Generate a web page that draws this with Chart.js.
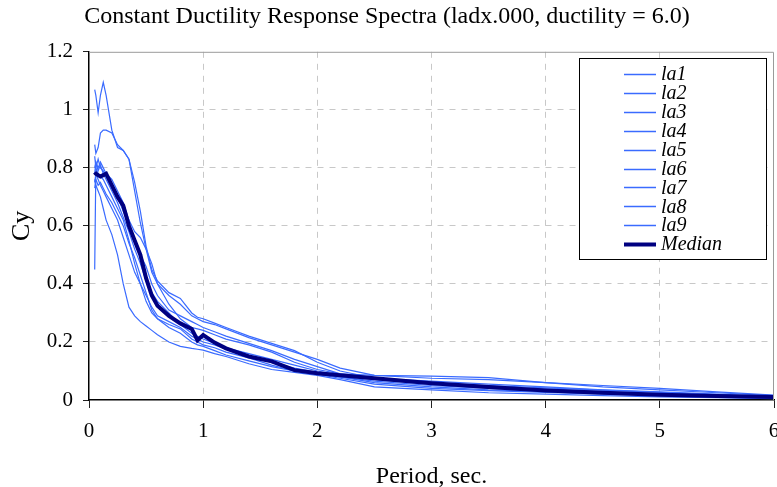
<!DOCTYPE html>
<html>
<head>
<meta charset="utf-8">
<script src="https://cdn.jsdelivr.net/npm/chart.js@4"></script>
<style>
  html, body { margin: 0; padding: 0; background: #fff; }
  #wrap { width: 777px; height: 487px; }
</style>
</head>
<body>
<div id="wrap"><canvas id="c" width="777" height="487"></canvas></div>
<script>
const periods = [0.05, 0.06, 0.08, 0.1, 0.125, 0.15, 0.2, 0.25, 0.3, 0.35, 0.4, 0.45, 0.5, 0.55, 0.6,
  0.7, 0.8, 0.9, 0.95, 1.0, 1.1, 1.2, 1.4, 1.6, 1.8, 2.0, 2.2, 2.5, 3.0, 3.5, 4.0, 4.5, 5.0, 5.5, 6.0];

const la1 = [1.07, 1.05, 0.99, 1.05, 1.095, 1.05, 0.93, 0.87, 0.86, 0.83, 0.72, 0.61, 0.52, 0.44, 0.40,
  0.36, 0.33, 0.29, 0.28, 0.27, 0.26, 0.245, 0.215, 0.19, 0.165, 0.14, 0.11, 0.085, 0.075, 0.07, 0.06, 0.045, 0.035, 0.025, 0.015];
const la2 = [0.88, 0.85, 0.87, 0.92, 0.93, 0.93, 0.92, 0.88, 0.86, 0.83, 0.75, 0.65, 0.53, 0.45, 0.41,
  0.37, 0.35, 0.30, 0.285, 0.28, 0.265, 0.25, 0.22, 0.195, 0.17, 0.13, 0.10, 0.075, 0.065, 0.055, 0.045, 0.035, 0.028, 0.02, 0.012];
const la3 = [0.78, 0.82, 0.80, 0.82, 0.80, 0.78, 0.76, 0.72, 0.68, 0.62, 0.58, 0.56, 0.52, 0.47, 0.40,
  0.33, 0.28, 0.25, 0.245, 0.24, 0.225, 0.21, 0.19, 0.165, 0.13, 0.105, 0.09, 0.085, 0.082, 0.077, 0.06, 0.05, 0.04, 0.028, 0.017];
const la4 = [0.75, 0.78, 0.76, 0.74, 0.72, 0.70, 0.66, 0.62, 0.56, 0.50, 0.44, 0.40, 0.36, 0.32, 0.29,
  0.27, 0.25, 0.22, 0.21, 0.20, 0.19, 0.175, 0.15, 0.13, 0.11, 0.095, 0.08, 0.065, 0.05, 0.04, 0.033, 0.027, 0.02, 0.014, 0.008];
const la5 = [0.45, 0.80, 0.78, 0.77, 0.76, 0.74, 0.70, 0.66, 0.62, 0.55, 0.47, 0.40, 0.34, 0.30, 0.28,
  0.26, 0.245, 0.21, 0.20, 0.19, 0.18, 0.165, 0.145, 0.12, 0.10, 0.09, 0.08, 0.06, 0.045, 0.035, 0.03, 0.025, 0.018, 0.012, 0.007];
const la6 = [0.76, 0.74, 0.72, 0.70, 0.66, 0.62, 0.57, 0.50, 0.40, 0.32, 0.29, 0.27, 0.255, 0.24, 0.225,
  0.20, 0.185, 0.178, 0.175, 0.172, 0.16, 0.15, 0.125, 0.105, 0.095, 0.085, 0.07, 0.045, 0.035, 0.025, 0.02, 0.015, 0.011, 0.008, 0.005];
const la7 = [0.80, 0.82, 0.79, 0.81, 0.78, 0.76, 0.72, 0.68, 0.63, 0.58, 0.52, 0.47, 0.41, 0.37, 0.34,
  0.30, 0.26, 0.23, 0.22, 0.21, 0.195, 0.18, 0.16, 0.14, 0.12, 0.10, 0.085, 0.07, 0.055, 0.045, 0.038, 0.03, 0.022, 0.016, 0.01];
const la8 = [0.84, 0.80, 0.83, 0.80, 0.79, 0.77, 0.74, 0.70, 0.65, 0.60, 0.55, 0.50, 0.46, 0.40, 0.36,
  0.31, 0.29, 0.27, 0.26, 0.25, 0.235, 0.22, 0.195, 0.17, 0.14, 0.115, 0.09, 0.075, 0.06, 0.05, 0.042, 0.034, 0.026, 0.018, 0.012];
const la9 = [0.73, 0.76, 0.74, 0.75, 0.73, 0.71, 0.68, 0.64, 0.60, 0.54, 0.49, 0.43, 0.37, 0.31, 0.28,
  0.25, 0.23, 0.20, 0.19, 0.185, 0.17, 0.155, 0.135, 0.115, 0.10, 0.088, 0.075, 0.055, 0.04, 0.032, 0.026, 0.02, 0.015, 0.01, 0.006];
const median = [0.785, 0.78, 0.775, 0.77, 0.775, 0.78, 0.74, 0.70, 0.67, 0.60, 0.55, 0.50, 0.42, 0.36, 0.325,
  0.29, 0.264, 0.245, 0.206, 0.224, 0.198, 0.178, 0.15, 0.133, 0.103, 0.092, 0.085, 0.075, 0.058, 0.045, 0.033, 0.025, 0.018, 0.014, 0.01];

const seriesNames = ["la1", "la2", "la3", "la4", "la5", "la6", "la7", "la8", "la9"];
const seriesValues = [la1, la2, la3, la4, la5, la6, la7, la8, la9];
const xTicks = [0, 1, 2, 3, 4, 5, 6];
const yTicks = [0, 0.2, 0.4, 0.6, 0.8, 1, 1.2];

const SERIF = "'Liberation Serif', 'Times New Roman', serif";
const pts = (ys) => periods.map((x, i) => ({ x, y: ys[i] }));

const datasets = seriesNames.map((name, i) => ({
  label: name,
  data: pts(seriesValues[i]),
  borderColor: "#3a6bff",
  borderWidth: 1.2,
  pointRadius: 0,
  tension: 0,
  order: 1,
}));
datasets.push({
  label: "Median",
  data: pts(median),
  borderColor: "#000080",
  borderWidth: 4,
  pointRadius: 0,
  tension: 0,
  order: 0,
});

// grey frame on top/right of the plot area, legend box inside it
const frameAndLegend = {
  id: "frameAndLegend",
  afterDraw(chart) {
    const { ctx, chartArea: a } = chart;
    ctx.save();
    ctx.strokeStyle = "#9a9a9a";
    ctx.lineWidth = 1;
    ctx.beginPath();
    ctx.moveTo(a.left, a.top + 0.5);
    ctx.lineTo(a.right - 0.5, a.top + 0.5);
    ctx.lineTo(a.right - 0.5, a.bottom);
    ctx.stroke();

    ctx.fillStyle = "#fff";
    ctx.fillRect(579, 58, 188, 202);
    ctx.strokeStyle = "#000";
    ctx.strokeRect(579.5, 58.5, 187, 201);
    ctx.font = "italic 20px " + SERIF;
    ctx.textBaseline = "middle";
    ctx.textAlign = "left";
    chart.data.datasets.forEach((ds, i) => {
      const y = 74 + i * 18.9;
      ctx.strokeStyle = ds.borderColor;
      ctx.lineWidth = ds.borderWidth === 4 ? 4 : 1.5;
      ctx.beginPath();
      ctx.moveTo(624, Math.round(y) + 0.5);
      ctx.lineTo(656, Math.round(y) + 0.5);
      ctx.stroke();
      ctx.fillStyle = "#000";
      ctx.fillText(ds.label, 661, y + 1);
    });
    ctx.restore();
  },
};

new Chart(document.getElementById("c"), {
  type: "line",
  data: { datasets },
  options: {
    responsive: false,
    animation: false,
    layout: { padding: { right: 3 } },
    plugins: {
      legend: { display: false },
      tooltip: { enabled: false },
      title: {
        display: true,
        text: "Constant Ductility Response Spectra (ladx.000, ductility = 6.0)",
        color: "#000",
        font: { family: SERIF, size: 24, weight: "normal", lineHeight: 1.2 },
        padding: { top: 2, bottom: 21 },
        align: "center",
      },
    },
    scales: {
      x: {
        type: "linear",
        min: 0,
        max: 6,
        afterFit: (s) => { s.height = 87; s.paddingLeft = 0; s.paddingRight = 0; },
        afterBuildTicks: (s) => { s.ticks = xTicks.map((v) => ({ value: v })); },
        ticks: { color: "#000", padding: 11, maxRotation: 0, font: { family: SERIF, size: 21 } },
        grid: {
          color: (c) => (c.tick && (c.tick.value === 0 || c.tick.value === 6) ? "rgba(0,0,0,0)" : "#c8c8c8"),
          lineWidth: 1,
          tickLength: 8,
          tickColor: "#222",
        },
        border: { display: true, color: "#000", width: 1.5, dash: [6, 6] },
        title: {
          display: true,
          text: "Period, sec.",
          color: "#000",
          font: { family: SERIF, size: 24, lineHeight: 0.84 },
          padding: { top: 0, bottom: 0 },
        },
      },
      y: {
        type: "linear",
        min: 0,
        max: 1.2,
        afterFit: (s) => { s.width = 89; s.paddingTop = 0; s.paddingBottom = 0; },
        afterBuildTicks: (s) => { s.ticks = yTicks.map((v) => ({ value: v })); },
        ticks: { color: "#000", padding: 10, font: { family: SERIF, size: 21 }, callback: (v) => String(v) },
        grid: {
          color: (c) => (c.tick && (c.tick.value === 0 || c.tick.value === 1.2) ? "rgba(0,0,0,0)" : "#c8c8c8"),
          lineWidth: 1,
          tickLength: 6,
          tickColor: "#222",
        },
        border: { display: true, color: "#000", width: 1.5, dash: [6, 6] },
        title: {
          display: true,
          text: "Cy",
          color: "#000",
          font: { family: SERIF, size: 26, lineHeight: 1.2 },
          padding: { top: 7, bottom: 0 },
        },
      },
    },
  },
  plugins: [frameAndLegend],
});
</script>
</body>
</html>
